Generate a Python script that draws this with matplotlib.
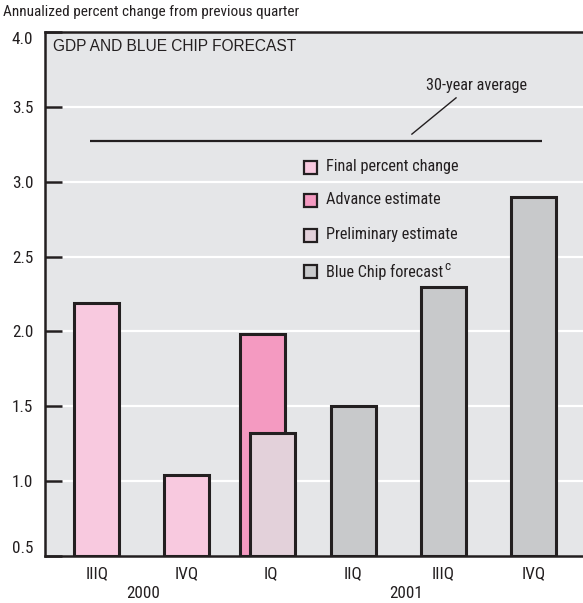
import matplotlib
matplotlib.use("Agg")
import matplotlib.pyplot as plt
from matplotlib.patches import Rectangle
from matplotlib.transforms import blended_transform_factory

plt.rcParams['font.family'] = ['Roboto Condensed', 'DejaVu Sans']

# data
quarters = ["IIIQ", "IVQ", "IQ", "IIQ", "IIIQ", "IVQ"]
years = ["2000", "2001"]
final_change = [2.19, 1.04]          # IIIQ 2000, IVQ 2000
advance_est = [1.98]                 # IQ 2001
prelim_est = [1.32]                  # IQ 2001
blue_chip = [1.50, 2.30, 2.90]       # IIQ, IIIQ, IVQ 2001
avg_30yr = 3.27
legend_labels = ["Final percent change", "Advance estimate",
                 "Preliminary estimate", "Blue Chip forecast"]

# colors
bg = "#e5e6e8"
edge = "#231f20"
c_final = "#f8c9df"
c_adv = "#f49ac1"
c_pre = "#e3d1da"
c_bc = "#c8c9cb"

# layout (x in slot units)
x_final = [0.0, 1.0]
x_adv = [1.84]
x_pre = [1.95]
x_bc = [2.85, 3.85, 4.85]
x_ticks = [0.0, 1.0, 1.93, 2.85, 3.85, 4.85]
x_years = [0.52, 3.44]
w = 0.5

fig = plt.figure(figsize=(5.83, 6.03), dpi=100)
ax = fig.add_axes([44.5/583, 1 - 556/603, 1 - 44.5/583, (556 - 32)/603])
ax.set_facecolor(bg)
ax.set_xlim(-0.58, 5.40)
ax.set_ylim(0.5, 4.0)

for y in [1.0, 1.5, 2.0, 2.5, 3.0, 3.5]:
    ax.axhline(y, color="white", lw=1.6, zorder=1)

kw = dict(width=w, edgecolor=edge, linewidth=2.2, zorder=3)
ax.bar(x_final, [v - 0.5 for v in final_change], bottom=0.5, color=c_final, **kw)
ax.bar(x_adv, [v - 0.5 for v in advance_est], bottom=0.5, color=c_adv, **kw)
ax.bar(x_pre, [v - 0.5 for v in prelim_est], bottom=0.5, color=c_pre, **kw)
ax.bar(x_bc, [v - 0.5 for v in blue_chip], bottom=0.5, color=c_bc, **kw)

# 30-year average
ax.hlines(avg_30yr, -0.075, 4.94, color=edge, lw=1.6, zorder=2)
ax.plot([3.50, 3.99], [3.318, 3.56], color=edge, lw=1.0, zorder=2)
ax.text(4.22, 3.645, "30-year average", fontsize=11.7, ha="center", va="center", color="#231f20")

# manual legend
leg_colors = [c_final, c_adv, c_pre, c_bc]
leg_y = [167, 200, 235, 271.5]
renderer = fig.canvas.get_renderer()
for col, yp, lab in zip(leg_colors, leg_y, legend_labels):
    fy = 1 - yp/603
    fig.patches.append(Rectangle((304/583, fy - 6.5/603), 13/583, 13/603,
                                 transform=fig.transFigure, facecolor=col,
                                 edgecolor=edge, linewidth=1.6, zorder=5))
    t = fig.text(326/583, fy, lab, fontsize=11.7, va="center", ha="left", color="#231f20")
last = t.get_window_extent(renderer)
fig.text((last.x1 + 1.5)/583, 1 - 266.5/603, "c", fontsize=9.5, va="center", ha="left", color="#231f20")

# spines
for s in ["left", "bottom", "top"]:
    ax.spines[s].set_color(edge)
    ax.spines[s].set_linewidth(1.8)
ax.spines["right"].set_visible(False)

# y ticks
ax.set_yticks([0.5, 1.0, 1.5, 2.0, 2.5, 3.0, 3.5, 4.0])
ax.set_yticklabels(["0.5", "1.0", "1.5", "2.0", "2.5", "3.0", "3.5", "4.0"])
ax.tick_params(axis="y", direction="in", length=12, width=1.8, color=edge,
               labelsize=12.3, pad=8, labelcolor="#231f20")
ylabs = ax.get_yticklabels()
ylabs[0].set_va("bottom")
ylabs[-1].set_va("top")

# x ticks
ax.set_xticks(x_ticks)
ax.set_xticklabels(quarters)
ax.tick_params(axis="x", length=0, labelsize=12.3, pad=7, labelcolor="#231f20")
tr = blended_transform_factory(ax.transData, ax.transAxes)
for xp, yr in zip(x_years, years):
    ax.annotate(yr, xy=(xp, 0), xycoords=tr, xytext=(0, -38), textcoords="offset pixels",
                ha="center", va="center", fontsize=12.3, color="#231f20")

ax.text(0.016, 0.986, "GDP AND BLUE CHIP FORECAST", transform=ax.transAxes,
        fontsize=11.2, family="Liberation Sans", ha="left", va="top", color="#231f20")
fig.text(3/583, 1 - 12/603, "Annualized percent change from previous quarter",
         fontsize=11, ha="left", va="center", color="#231f20")

fig.savefig("out.png", dpi=100)
